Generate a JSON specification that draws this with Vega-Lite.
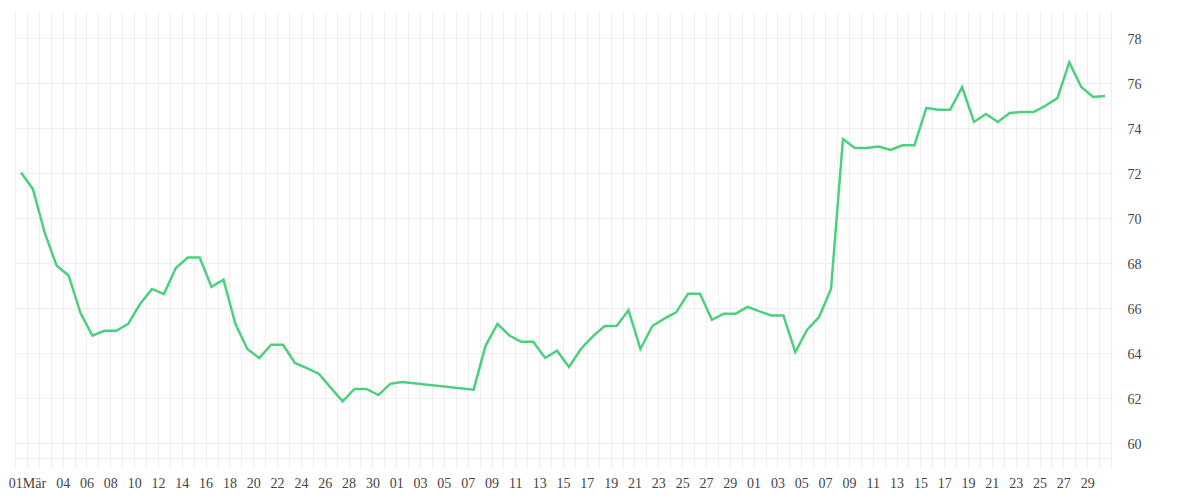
{
  "$schema": "https://vega.github.io/schema/vega-lite/v6.json",
  "width": 1096,
  "height": 446,
  "autosize": "none",
  "padding": {"left": 15, "top": 12, "right": 89, "bottom": 42},
  "background": "white",
  "config": {
    "view": {"stroke": null},
    "axis": {"labelFont": "Liberation Serif", "labelFontSize": 14, "labelColor": "#444444", "gridColor": "#eeeeee", "gridWidth": 1}
  },
  "data": {
    "values": [
      {"date": "2024-02-29T12:00:00", "value": 72.02},
      {"date": "2024-03-01T12:00:00", "value": 71.29},
      {"date": "2024-03-02T12:00:00", "value": 69.33},
      {"date": "2024-03-03T12:00:00", "value": 67.87},
      {"date": "2024-03-04T12:00:00", "value": 67.44},
      {"date": "2024-03-05T12:00:00", "value": 65.77},
      {"date": "2024-03-06T12:00:00", "value": 64.76},
      {"date": "2024-03-07T12:00:00", "value": 64.98},
      {"date": "2024-03-08T12:00:00", "value": 64.98},
      {"date": "2024-03-09T12:00:00", "value": 65.29},
      {"date": "2024-03-10T12:00:00", "value": 66.17},
      {"date": "2024-03-11T12:00:00", "value": 66.84},
      {"date": "2024-03-12T12:00:00", "value": 66.61},
      {"date": "2024-03-13T12:00:00", "value": 67.77},
      {"date": "2024-03-14T12:00:00", "value": 68.24},
      {"date": "2024-03-15T12:00:00", "value": 68.24},
      {"date": "2024-03-16T12:00:00", "value": 66.93},
      {"date": "2024-03-17T12:00:00", "value": 67.25},
      {"date": "2024-03-18T12:00:00", "value": 65.29},
      {"date": "2024-03-19T12:00:00", "value": 64.17},
      {"date": "2024-03-20T12:00:00", "value": 63.77},
      {"date": "2024-03-21T12:00:00", "value": 64.36},
      {"date": "2024-03-22T12:00:00", "value": 64.36},
      {"date": "2024-03-23T12:00:00", "value": 63.55},
      {"date": "2024-03-24T12:00:00", "value": 63.32},
      {"date": "2024-03-25T12:00:00", "value": 63.07},
      {"date": "2024-03-26T12:00:00", "value": 62.45},
      {"date": "2024-03-27T12:00:00", "value": 61.84},
      {"date": "2024-03-28T12:00:00", "value": 62.39},
      {"date": "2024-03-29T12:00:00", "value": 62.39},
      {"date": "2024-03-30T12:00:00", "value": 62.12},
      {"date": "2024-03-31T12:00:00", "value": 62.62},
      {"date": "2024-04-01T12:00:00", "value": 62.70},
      {"date": "2024-04-07T12:00:00", "value": 62.36},
      {"date": "2024-04-08T12:00:00", "value": 64.31},
      {"date": "2024-04-09T12:00:00", "value": 65.29},
      {"date": "2024-04-10T12:00:00", "value": 64.77},
      {"date": "2024-04-11T12:00:00", "value": 64.49},
      {"date": "2024-04-12T12:00:00", "value": 64.49},
      {"date": "2024-04-13T12:00:00", "value": 63.77},
      {"date": "2024-04-14T12:00:00", "value": 64.09},
      {"date": "2024-04-15T12:00:00", "value": 63.37},
      {"date": "2024-04-16T12:00:00", "value": 64.17},
      {"date": "2024-04-17T12:00:00", "value": 64.73},
      {"date": "2024-04-18T12:00:00", "value": 65.19},
      {"date": "2024-04-19T12:00:00", "value": 65.19},
      {"date": "2024-04-20T12:00:00", "value": 65.89},
      {"date": "2024-04-21T12:00:00", "value": 64.17},
      {"date": "2024-04-22T12:00:00", "value": 65.19},
      {"date": "2024-04-23T12:00:00", "value": 65.52},
      {"date": "2024-04-24T12:00:00", "value": 65.80},
      {"date": "2024-04-25T12:00:00", "value": 66.63},
      {"date": "2024-04-26T12:00:00", "value": 66.63},
      {"date": "2024-04-27T12:00:00", "value": 65.47},
      {"date": "2024-04-28T12:00:00", "value": 65.74},
      {"date": "2024-04-29T12:00:00", "value": 65.74},
      {"date": "2024-04-30T12:00:00", "value": 66.04},
      {"date": "2024-05-01T12:00:00", "value": 65.84},
      {"date": "2024-05-02T12:00:00", "value": 65.66},
      {"date": "2024-05-03T12:00:00", "value": 65.66},
      {"date": "2024-05-04T12:00:00", "value": 64.03},
      {"date": "2024-05-05T12:00:00", "value": 65.03},
      {"date": "2024-05-06T12:00:00", "value": 65.59},
      {"date": "2024-05-07T12:00:00", "value": 66.85},
      {"date": "2024-05-08T12:00:00", "value": 73.51},
      {"date": "2024-05-09T12:00:00", "value": 73.11},
      {"date": "2024-05-10T12:00:00", "value": 73.11},
      {"date": "2024-05-11T12:00:00", "value": 73.18},
      {"date": "2024-05-12T12:00:00", "value": 73.02},
      {"date": "2024-05-13T12:00:00", "value": 73.23},
      {"date": "2024-05-14T12:00:00", "value": 73.23},
      {"date": "2024-05-15T12:00:00", "value": 74.89},
      {"date": "2024-05-16T12:00:00", "value": 74.81},
      {"date": "2024-05-17T12:00:00", "value": 74.81},
      {"date": "2024-05-18T12:00:00", "value": 75.82},
      {"date": "2024-05-19T12:00:00", "value": 74.27},
      {"date": "2024-05-20T12:00:00", "value": 74.62},
      {"date": "2024-05-21T12:00:00", "value": 74.27},
      {"date": "2024-05-22T12:00:00", "value": 74.67},
      {"date": "2024-05-23T12:00:00", "value": 74.71},
      {"date": "2024-05-24T12:00:00", "value": 74.71},
      {"date": "2024-05-25T12:00:00", "value": 74.99},
      {"date": "2024-05-26T12:00:00", "value": 75.33},
      {"date": "2024-05-27T12:00:00", "value": 76.92},
      {"date": "2024-05-28T12:00:00", "value": 75.82},
      {"date": "2024-05-29T12:00:00", "value": 75.38},
      {"date": "2024-05-30T12:00:00", "value": 75.42}
    ]
  },
  "mark": {"type": "line", "color": "#4cd07d", "strokeWidth": 2.5, "interpolate": "linear", "strokeJoin": "miter"},
  "encoding": {
    "x": {
      "field": "date",
      "type": "temporal",
      "scale": {"domain": [{"year": 2024, "month": 2, "date": 29}, {"year": 2024, "month": 5, "date": 31}], "nice": false},
      "axis": {
        "title": null,
        "tickCount": {"interval": "day", "step": 1},
        "grid": true,
        "ticks": true,
        "tickSize": 10,
        "tickColor": "#eeeeee",
        "domain": true,
        "domainColor": "#eeeeee",
        "labelOverlap": false,
        "labelBound": false,
        "labelFlush": false,
        "labelPadding": 8,
        "labelExpr": "(month(datum.value)==2 && date(datum.value)==1) ? '01Mär' : (((month(datum.value)==2 && date(datum.value)>=4 && date(datum.value)%2==0) || (month(datum.value)>=3 && date(datum.value)%2==1 && date(datum.value)<=29)) ? timeFormat(datum.value, '%d') : '')"
      }
    },
    "y": {
      "field": "value",
      "type": "quantitative",
      "scale": {"domain": [59.32, 79.16], "nice": false, "zero": false},
      "axis": {
        "orient": "right",
        "title": null,
        "values": [60, 62, 64, 66, 68, 70, 72, 74, 76, 78],
        "domain": false,
        "ticks": false,
        "grid": true,
        "labelPadding": 16,
        "labelOffset": 1.5,
        "labelAlign": "left"
      }
    }
  }
}
